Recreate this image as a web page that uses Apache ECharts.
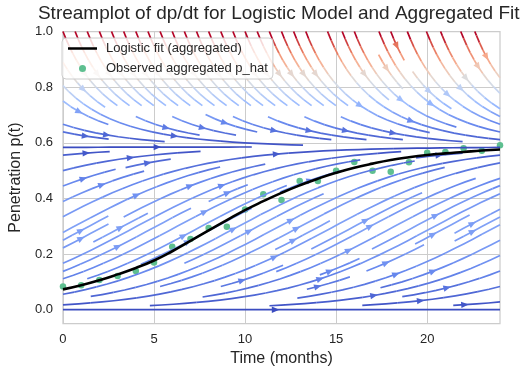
<!DOCTYPE html>
<html><head><meta charset="utf-8">
<script src="https://cdn.jsdelivr.net/npm/echarts@6/dist/echarts.min.js"></script>
<style>html,body{margin:0;padding:0;background:#fff}#chart{width:530px;height:376px}</style>
</head><body><div id="chart"></div>
<script>
// ---------- data ----------
const months = [0,1,2,3,4,5,6,7,8,9,10,11,12,13,14,15,16,17,18,19,20,21,22,23,24];
const observedPhat = [0.083,0.088,0.107,0.121,0.139,0.170,0.226,0.254,0.294,0.298,0.360,0.415,0.394,0.463,0.463,0.499,0.531,0.499,0.496,0.530,0.564,0.567,0.580,0.571,0.591];
const logisticFit = [0.073,0.088,0.106,0.127,0.150,0.177,0.210,0.247,0.285,0.322,0.358,0.390,0.420,0.447,0.471,0.492,0.510,0.525,0.538,0.548,0.556,0.562,0.567,0.572,0.576];
const xTickValues = [0,5,10,15,20];
const yTickValues = [0,0.2,0.4,0.6,0.8,1.0];
// logistic vector field dp/dt = r p (1 - p/K) shown by the streamplot
const fieldRate = 0.24;
const fieldCapacity = 0.585;
const fieldTimeRange = [0, 24];
const fieldPRange = [0, 1];

// ---------- helpers ----------
function linspace(a,b,n){const o=[];for(let i=0;i<n;i++)o.push(a+(b-a)*i/(n-1));return o;}
const cwStops=[[0,[59,76,192]],[1/7,[103,136,238]],[2/7,[154,187,255]],[3/7,[201,215,240]],[0.5,[221,220,220]],[4/7,[237,209,194]],[5/7,[247,168,137]],[6/7,[226,105,82]],[1,[180,4,38]]];
function coolwarm(t){t=Math.max(0,Math.min(1,t));for(let i=1;i<cwStops.length;i++){if(t<=cwStops[i][0]){const a=cwStops[i-1],b=cwStops[i];const f=(t-a[0])/(b[0]-a[0]);const c=a[1].map((v,k)=>Math.round(v+(b[1][k]-v)*f));return 'rgb('+c.join(',')+')';}}return 'rgb(180,4,38)';}

// ---------- streamplot (mask based, as in matplotlib) ----------
function streamplot(xs, ys, U, V, C, density, minlength, maxlength){
  const gnx=xs.length, gny=ys.length;
  const dxg=(xs[gnx-1]-xs[0])/(gnx-1), dyg=(ys[gny-1]-ys[0])/(gny-1);
  const mnx=Math.floor(30*density), mny=Math.floor(30*density);
  const mask=new Uint8Array(mnx*mny);
  const xg2m=(mnx-1)/(gnx-1), yg2m=(mny-1)/(gny-1), xm2g=1/xg2m, ym2g=1/yg2m;
  const ug=U.map(r=>r.map(u=>u/dxg)), vg=V.map(r=>r.map(v=>v/dyg));
  const sp=ug.map((r,j)=>r.map((u,i)=>Math.hypot(u/(gnx-1), vg[j][i]/(gny-1))));
  function interp(a,xi,yi){
    const x=Math.min(Math.max(Math.trunc(xi),0),gnx-1), y=Math.min(Math.max(Math.trunc(yi),0),gny-1);
    const xn=x===gnx-1?x:x+1, yn=y===gny-1?y:y+1;
    const xt=xi-x, yt=yi-y;
    const a0=a[y][x]*(1-xt)+a[y][xn]*xt, a1=a[yn][x]*(1-xt)+a[yn][xn]*xt;
    return a0*(1-yt)+a1*yt;
  }
  const OOB={}, TERM={}, INV={};
  function within(xi,yi){return xi>=0&&xi<=gnx-1&&yi>=0&&yi<=gny-1;}
  function pyRound(v){const f=Math.floor(v),d=v-f;if(d>0.5)return f+1;if(d<0.5)return f;return f%2===0?f:f+1;}
  let traj=[], cur=null;
  function g2m(xi,yi){return [pyRound(xi*xg2m), pyRound(yi*yg2m)];}
  function updMask(xm,ym){
    if(!cur||cur[0]!==xm||cur[1]!==ym){
      const k=ym*mnx+xm;
      if(mask[k]===0){traj.push(k);mask[k]=1;cur=[xm,ym];}
      else throw INV;
    }
  }
  function startTraj(xg,yg){traj=[];const m=g2m(xg,yg);updMask(m[0],m[1]);}
  function resetStart(xg,yg){cur=g2m(xg,yg);}
  function updTraj(xg,yg){if(!within(xg,yg))throw INV;const m=g2m(xg,yg);updMask(m[0],m[1]);}
  function undo(){for(const k of traj)mask[k]=0;}
  function fwd(xi,yi){
    if(!within(xi,yi))throw OOB;
    const s=interp(sp,xi,yi); if(s===0)throw TERM;
    const dt=1/s; return [interp(ug,xi,yi)*dt, interp(vg,xi,yi)*dt];
  }
  function bwd(xi,yi){const r=fwd(xi,yi);return [-r[0],-r[1]];}
  function euler(out,f){
    const [xi,yi]=out[out.length-1]; const [cx,cy]=f(xi,yi);
    const dsx=cx===0?Infinity:(cx<0?xi/-cx:(gnx-1-xi)/cx);
    const dsy=cy===0?Infinity:(cy<0?yi/-cy:(gny-1-yi)/cy);
    const ds=Math.min(dsx,dsy); out.push([xi+cx*ds, yi+cy*ds]); return ds;
  }
  function rk12(x0,y0,f){
    const maxerror=0.003, maxds=Math.min(1/mnx,1/mny,0.1);
    let ds=maxds, stotal=0, xi=x0, yi=y0; const out=[];
    while(true){
      let k1,k2;
      try{
        if(within(xi,yi))out.push([xi,yi]); else throw OOB;
        k1=f(xi,yi); k2=f(xi+ds*k1[0], yi+ds*k1[1]);
      }catch(e){
        if(e===OOB){ if(out.length){stotal+=euler(out,f);} break; }
        if(e===TERM)break; throw e;
      }
      const dx1=ds*k1[0], dy1=ds*k1[1], dx2=ds*0.5*(k1[0]+k2[0]), dy2=ds*0.5*(k1[1]+k2[1]);
      const error=Math.hypot((dx2-dx1)/(gnx-1),(dy2-dy1)/(gny-1));
      if(error<maxerror){
        xi+=dx2; yi+=dy2;
        try{updTraj(xi,yi);}catch(e){if(e===INV)break;throw e;}
        if(stotal+ds>maxlength)break;
        stotal+=ds;
      }
      ds = error===0 ? maxds : Math.min(maxds, 0.85*ds*Math.sqrt(maxerror/error));
    }
    return [stotal,out];
  }
  function integrate(x0,y0){
    try{startTraj(x0,y0);}catch(e){if(e===INV)return null;throw e;}
    let stotal=0;
    const b=rk12(x0,y0,bwd); stotal+=b[0]; let xy=b[1].slice().reverse();
    resetStart(x0,y0);
    const fw=rk12(x0,y0,fwd); stotal+=fw[0]; xy=xy.concat(fw[1].slice(1));
    if(stotal>minlength)return xy;
    undo(); return null;
  }
  function startPoints(ny,nx){
    const pts=[]; let xf=0,yf=1,xl=nx-1,yl=ny-1,x=0,y=0,dir=0;
    for(let i=0;i<nx*ny;i++){
      pts.push([x,y]);
      if(dir===0){x++;if(x>=xl){xl--;dir=1;}}
      else if(dir===1){y++;if(y>=yl){yl--;dir=2;}}
      else if(dir===2){x--;if(x<=xf){xf++;dir=3;}}
      else {y--;if(y<=yf){yf++;dir=0;}}
    }
    return pts;
  }
  const trajs=[];
  for(const [xm,ym] of startPoints(mny,mnx)){
    if(mask[ym*mnx+xm]===0){const t=integrate(xm*xm2g, ym*ym2g); if(t)trajs.push(t);}
  }
  let cmin=Infinity,cmax=-Infinity; C.forEach(r=>r.forEach(c=>{cmin=Math.min(cmin,c);cmax=Math.max(cmax,c);}));
  return trajs.map(tr=>({
    x: tr.map(p=>xs[0]+p[0]*dxg),
    y: tr.map(p=>ys[0]+p[1]*dyg),
    c: tr.slice(0,-1).map(p=>(interp(C,p[0],p[1])-cmin)/(cmax-cmin))
  }));
}

// ---------- build the field & streamlines ----------
const fieldT = linspace(fieldTimeRange[0], fieldTimeRange[1], 30);
const fieldP = linspace(fieldPRange[0], fieldPRange[1], 30);
const fU=[], fV=[], fC=[];
fieldP.forEach(p=>{const ur=[],vr=[],cr=[];fieldT.forEach(()=>{const v=fieldRate*p*(1-p/fieldCapacity);ur.push(1);vr.push(v);cr.push(Math.abs(v));});fU.push(ur);fV.push(vr);fC.push(cr);});
const streams = streamplot(fieldT, fieldP, fU, fV, fC, 1.25, 0.1, 4.0);

const NQ=48;
const streamLineData=[], arrowData=[];
streams.forEach(s=>{
  const q=s.c.map(c=>Math.round(c*(NQ-1)));
  let st=0;
  for(let k=1;k<=q.length;k++){
    if(k===q.length||q[k]!==q[st]){
      const coords=[]; for(let m=st;m<=k;m++)coords.push([s.x[m],s.y[m]]);
      streamLineData.push({coords, lineStyle:{color:coolwarm(q[st]/(NQ-1))}});
      st=k;
    }
  }
  const cum=[]; let acc=0;
  for(let k=1;k<s.x.length;k++){acc+=Math.hypot(s.x[k]-s.x[k-1], s.y[k]-s.y[k-1]);cum.push(acc);}
  let n=cum.findIndex(v=>v>=acc/2); if(n<0)n=cum.length-1;
  arrowData.push({value:[s.x[n],s.y[n],(s.x[n]+s.x[n+1])/2,(s.y[n]+s.y[n+1])/2], itemStyle:{color:coolwarm(s.c[n])}});
});

const FONT='"Liberation Sans", Arial, sans-serif';
const TXT='#262626';
const chart=echarts.init(document.getElementById('chart'),null,{renderer:'canvas'});
chart.setOption({
  animation:false,
  backgroundColor:'#ffffff',
  title:{text:'Streamplot of dp/dt for Logistic Model and Aggregated Fit',left:278.75,top:4,textAlign:'center',padding:0,
    textStyle:{fontFamily:FONT,fontSize:19,fontWeight:'normal',color:TXT}},
  grid:{left:57.5,right:30,top:31.5,bottom:52.4,show:true,borderColor:'#cccccc',borderWidth:1.25,containLabel:false},
  legend:{orient:'vertical',left:62,top:38,padding:[4,5,4,6],itemWidth:29,itemHeight:7,itemGap:7,
    backgroundColor:'rgba(255,255,255,0.8)',borderColor:'#cccccc',borderWidth:1,borderRadius:4,
    textStyle:{fontFamily:FONT,fontSize:13,color:TXT,padding:[0,0,0,4]},
    data:[{name:'Logistic fit (aggregated)',icon:'path://M0,0h30v2.6H0z'},{name:'Observed aggregated p_hat',icon:'circle'}]},
  xAxis:{type:'value',min:fieldTimeRange[0],max:fieldTimeRange[1],
    name:'Time (months)',nameLocation:'middle',nameGap:26,nameTextStyle:{fontFamily:FONT,fontSize:16,color:TXT},
    axisLine:{show:false},axisTick:{show:false},splitLine:{show:false},
    axisLabel:{customValues:xTickValues,fontFamily:FONT,fontSize:13,color:TXT,margin:9}},
  yAxis:{type:'value',min:-0.05,max:1.0,
    name:'Penetration p(t)',nameLocation:'middle',nameGap:34,nameTextStyle:{fontFamily:FONT,fontSize:16,color:TXT},
    axisLine:{show:false},axisTick:{show:false},splitLine:{show:false},
    axisLabel:{customValues:yTickValues,formatter:v=>v.toFixed(1),fontFamily:FONT,fontSize:13,color:TXT,margin:10}},
  series:[
    {name:'Observed aggregated p_hat',type:'scatter',z:1,symbolSize:6.5,
     itemStyle:{color:'#5ebf90',opacity:1},
     data:months.map((m,i)=>[m,observedPhat[i]]),
     markLine:{silent:true,symbol:['none','none'],z:0,label:{show:false},animation:false,
       lineStyle:{color:'#cccccc',width:1,type:'solid'},
       data:[...xTickValues.map(v=>({xAxis:v})),...yTickValues.map(v=>({yAxis:v}))]}},
    {type:'lines',coordinateSystem:'cartesian2d',polyline:true,z:2,silent:true,
     lineStyle:{width:1.7,opacity:1},data:streamLineData},
    {type:'custom',coordinateSystem:'cartesian2d',z:3,silent:true,
     encode:{x:[0,2],y:[1,3]},
     renderItem:(params,api)=>{
       const a=api.coord([api.value(0),api.value(1)]), b=api.coord([api.value(2),api.value(3)]);
       let dx=b[0]-a[0], dy=b[1]-a[1]; const L=Math.hypot(dx,dy)||1; dx/=L; dy/=L;
       const len=7.5, hw=3.2;
       const tip=[a[0]+dx*len*0.5,a[1]+dy*len*0.5], base=[a[0]-dx*len*0.5,a[1]-dy*len*0.5];
       return {type:'polygon',shape:{points:[tip,[base[0]-dy*hw,base[1]+dx*hw],[base[0]+dy*hw,base[1]-dx*hw]]},
         style:{fill:api.visual('color')}};
     },
     data:arrowData},
    {name:'Logistic fit (aggregated)',type:'line',z:4,smooth:true,symbol:'none',showSymbol:false,
     lineStyle:{color:'#000000',width:2.6},itemStyle:{color:'#000000'},
     data:months.map((m,i)=>[m,logisticFit[i]])}
  ]
});
</script></body></html>
